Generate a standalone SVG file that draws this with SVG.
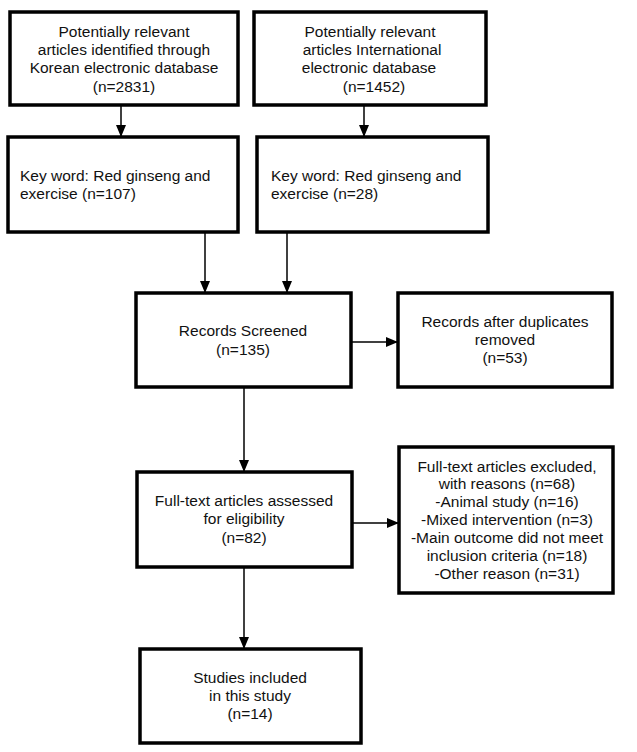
<svg xmlns="http://www.w3.org/2000/svg" width="637" height="752" viewBox="0 0 637 752">
<style>
.box{fill:#fff;stroke:#000;stroke-width:3.5}
.t{font-family:"Liberation Sans",Arial,sans-serif;font-size:15.5px;fill:#111}
.c{text-anchor:middle}
.con line{stroke:#000;stroke-width:1.5;marker-end:url(#ah)}
</style>
<defs>
<marker id="ah" markerWidth="12" markerHeight="10" refX="11" refY="5" orient="auto" markerUnits="userSpaceOnUse">
<path d="M0,0 L12,5 L0,10 Z" fill="#000"/>
</marker>
</defs>
<rect width="637" height="752" fill="#fff"/>
<g class="con">
<line x1="121" y1="105" x2="121" y2="136"/>
<line x1="364" y1="105" x2="364" y2="136"/>
<line x1="205" y1="232" x2="205" y2="292"/>
<line x1="287" y1="232" x2="287" y2="292"/>
<line x1="351" y1="342" x2="397" y2="342"/>
<line x1="244" y1="387" x2="244" y2="471"/>
<line x1="352" y1="523" x2="398" y2="523"/>
<line x1="244" y1="567" x2="244" y2="648"/>
</g>
<g id="n1"><rect class="box" x="10" y="12" width="228" height="93"/>
<text class="t c" x="124"><tspan x="124" y="37">Potentially relevant</tspan><tspan x="124" y="55">articles identified through</tspan><tspan x="124" y="73">Korean electronic database</tspan><tspan x="124" y="92">(n=2831)</tspan></text></g>
<g id="n2"><rect class="box" x="254" y="12" width="232" height="93"/>
<text class="t c"><tspan x="370" y="37">Potentially relevant</tspan><tspan x="372" y="55">articles International</tspan><tspan x="369" y="73">electronic database</tspan><tspan x="374" y="92">(n=1452)</tspan></text></g>
<g id="n3"><rect class="box" x="8" y="137" width="230" height="95"/>
<text class="t"><tspan x="20" y="181">Key word: Red ginseng and</tspan><tspan x="20" y="199">exercise (n=107)</tspan></text></g>
<g id="n4"><rect class="box" x="257" y="137" width="231" height="95"/>
<text class="t"><tspan x="271" y="181">Key word: Red ginseng and</tspan><tspan x="271" y="199">exercise (n=28)</tspan></text></g>
<g id="n5"><rect class="box" x="136" y="293" width="215" height="94"/>
<text class="t c"><tspan x="243" y="336">Records Screened</tspan><tspan x="243" y="355">(n=135)</tspan></text></g>
<g id="n6"><rect class="box" x="398" y="293" width="214" height="94"/>
<text class="t c"><tspan x="505" y="327">Records after duplicates</tspan><tspan x="505" y="345">removed</tspan><tspan x="505" y="363">(n=53)</tspan></text></g>
<g id="n7"><rect class="box" x="137" y="472" width="215" height="95"/>
<text class="t c"><tspan x="244" y="506">Full-text articles assessed</tspan><tspan x="244" y="524">for eligibility</tspan><tspan x="244" y="543">(n=82)</tspan></text></g>
<g id="n8"><rect class="box" x="399" y="447" width="214" height="146"/>
<text class="t c"><tspan x="507" y="472">Full-text articles excluded,</tspan><tspan x="507" y="489">with reasons (n=68)</tspan><tspan x="507" y="507">-Animal study (n=16)</tspan><tspan x="507" y="525">-Mixed intervention (n=3)</tspan><tspan x="507" y="543">-Main outcome did not meet</tspan><tspan x="507" y="561">inclusion criteria (n=18)</tspan><tspan x="507" y="579">-Other reason (n=31)</tspan></text></g>
<g id="n9"><rect class="box" x="140" y="649" width="221" height="94"/>
<text class="t c"><tspan x="250" y="683">Studies included</tspan><tspan x="250" y="701">in this study</tspan><tspan x="250" y="719">(n=14)</tspan></text></g>
</svg>
